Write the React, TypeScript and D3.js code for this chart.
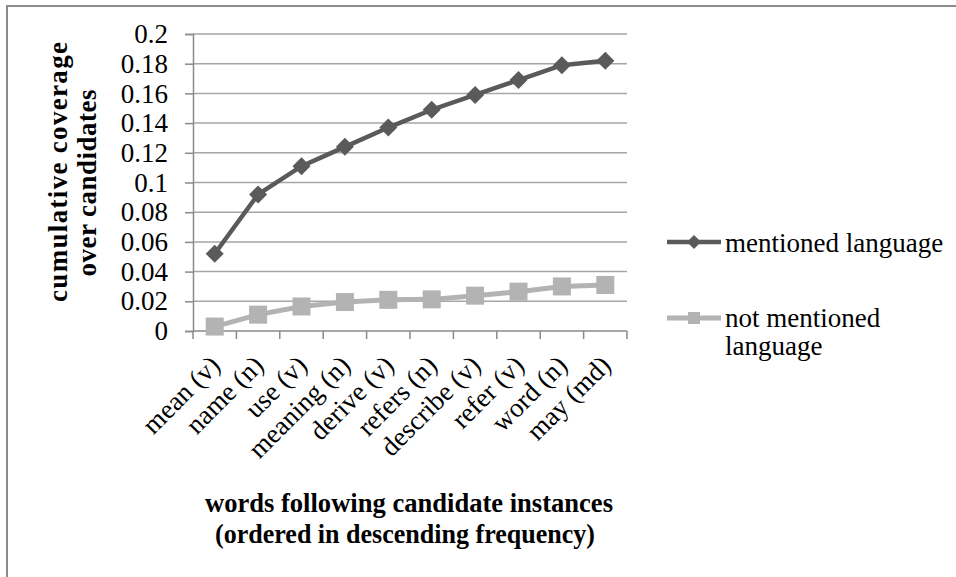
import * as d3 from "d3";
import { useEffect, useRef } from "react";

// categories on the x axis
const words = [
  "mean (v)",
  "name (n)",
  "use (v)",
  "meaning (n)",
  "derive (v)",
  "refers (n)",
  "describe (v)",
  "refer (v)",
  "word (n)",
  "may (md)",
];

// cumulative coverage values
const mentioned = [0.052, 0.092, 0.111, 0.124, 0.137, 0.149, 0.159, 0.169, 0.179, 0.182];
const notMentioned = [0.003, 0.011, 0.0165, 0.0195, 0.021, 0.0213, 0.0238, 0.0265, 0.03, 0.031];

const yTicks = [0, 0.02, 0.04, 0.06, 0.08, 0.1, 0.12, 0.14, 0.16, 0.18, 0.2];

const FONT = "'Liberation Serif', 'Times New Roman', serif";
const DARK = "#5a5a5a";
const LIGHT = "#b3b3b3";

export default function App() {
  const svgRef = useRef<SVGSVGElement | null>(null);
  const width = 956;
  const height = 577;

  useEffect(() => {
    if (!svgRef.current) return;
    const svg = d3.select(svgRef.current);
    svg.selectAll("*").remove();

    const left = 193;
    const right = 627;
    const top = 34;
    const bottom = 331;

    const x = d3.scaleBand<string>().domain(words).range([left, right]).padding(0);
    const y = d3.scaleLinear().domain([0, 0.2]).range([bottom, top]);
    const cx = (w: string) => x(w)! + x.bandwidth() / 2;

    // outer frame (only top & left fall inside the picture)
    svg
      .append("path")
      .attr("d", `M7,${height} L7,6 L${width},6`)
      .attr("fill", "none")
      .attr("stroke", "#8c8c8c")
      .attr("stroke-width", 2);

    // gridlines
    svg
      .append("g")
      .selectAll("line")
      .data(yTicks.slice(1))
      .enter()
      .append("line")
      .attr("x1", left)
      .attr("x2", right)
      .attr("y1", (d) => y(d))
      .attr("y2", (d) => y(d))
      .attr("stroke", "#a6a6a6")
      .attr("stroke-width", 1.5);

    // y axis
    const yAxis = svg
      .append("g")
      .attr("transform", `translate(${left},0)`)
      .call(
        d3
          .axisLeft(y)
          .tickValues(yTicks)
          .tickSize(8)
          .tickPadding(17)
          .tickFormat((d) => String(d))
      );
    yAxis.select(".domain").attr("stroke", "#8a8a8a").attr("stroke-width", 1.5);
    yAxis.selectAll(".tick line").attr("stroke", "#8a8a8a").attr("stroke-width", 1.5);
    yAxis
      .selectAll(".tick text")
      .attr("fill", "#000")
      .style("font-family", FONT)
      .style("font-size", "27px");

    // x axis
    const xAxis = svg.append("g");
    xAxis
      .append("line")
      .attr("x1", left)
      .attr("x2", right)
      .attr("y1", bottom)
      .attr("y2", bottom)
      .attr("stroke", "#8a8a8a")
      .attr("stroke-width", 1.5);
    xAxis
      .selectAll(".xt")
      .data(d3.range(words.length + 1))
      .enter()
      .append("line")
      .attr("x1", (i) => left + i * x.step())
      .attr("x2", (i) => left + i * x.step())
      .attr("y1", bottom)
      .attr("y2", bottom + 8)
      .attr("stroke", "#8a8a8a")
      .attr("stroke-width", 1.5);
    xAxis
      .selectAll(".xl")
      .data(words)
      .enter()
      .append("text")
      .attr("transform", (d) => `translate(${cx(d) + 7},${bottom + 36}) rotate(-45)`)
      .attr("text-anchor", "end")
      .style("font-family", FONT)
      .style("font-size", "27px")
      .text((d) => d);

    // lines + markers
    const line = d3
      .line<number>()
      .x((_, i) => cx(words[i]))
      .y((d) => y(d));

    svg
      .append("path")
      .datum(notMentioned)
      .attr("fill", "none")
      .attr("stroke", LIGHT)
      .attr("stroke-width", 5)
      .attr("d", line);
    svg
      .append("g")
      .selectAll("rect")
      .data(notMentioned)
      .enter()
      .append("rect")
      .attr("x", (_, i) => cx(words[i]) - 9)
      .attr("y", (d) => y(d) - 9)
      .attr("width", 18)
      .attr("height", 18)
      .attr("fill", LIGHT);

    svg
      .append("path")
      .datum(mentioned)
      .attr("fill", "none")
      .attr("stroke", DARK)
      .attr("stroke-width", 4.5)
      .attr("d", line);
    svg
      .append("g")
      .selectAll("path")
      .data(mentioned)
      .enter()
      .append("path")
      .attr("transform", (d, i) => `translate(${cx(words[i])},${y(d)})`)
      .attr("d", "M0,-9L9,0L0,9L-9,0Z")
      .attr("fill", DARK);

    // y title
    const yTitle = svg.append("g").style("font-family", FONT).style("font-size", "27px").style("font-weight", "bold");
    yTitle
      .append("text")
      .attr("transform", "translate(67,172) rotate(-90)")
      .attr("text-anchor", "middle")
      .attr("textLength", 260)
      .attr("lengthAdjust", "spacing")
      .text("cumulative  coverage");
    yTitle
      .append("text")
      .attr("transform", "translate(96,183) rotate(-90)")
      .attr("text-anchor", "middle")
      .attr("textLength", 187)
      .attr("lengthAdjust", "spacing")
      .text("over  candidates");

    // x title
    const xTitle = svg.append("g").style("font-family", FONT).style("font-size", "27px").style("font-weight", "bold");
    xTitle
      .append("text")
      .attr("x", 409)
      .attr("y", 512)
      .attr("text-anchor", "middle")
      .attr("textLength", 408)
      .attr("lengthAdjust", "spacingAndGlyphs")
      .text("words following candidate instances");
    xTitle
      .append("text")
      .attr("x", 405)
      .attr("y", 543)
      .attr("text-anchor", "middle")
      .attr("textLength", 380)
      .attr("lengthAdjust", "spacingAndGlyphs")
      .text("(ordered in descending frequency)");

    // legend
    const legend = svg.append("g").style("font-family", FONT).style("font-size", "27px");
    const lg1 = legend.append("g").attr("transform", "translate(0,242)");
    lg1.append("line").attr("x1", 667).attr("x2", 721).attr("stroke", DARK).attr("stroke-width", 4.5);
    lg1.append("path").attr("d", "M694,-7L701,0L694,7L687,0Z").attr("fill", DARK);
    lg1.append("text").attr("x", 725).attr("y", 10).text("mentioned language");

    const lg2 = legend.append("g").attr("transform", "translate(0,318)");
    lg2.append("line").attr("x1", 667).attr("x2", 721).attr("stroke", LIGHT).attr("stroke-width", 5);
    lg2.append("rect").attr("x", 688).attr("y", -6).attr("width", 12).attr("height", 12).attr("fill", LIGHT);
    lg2.append("text").attr("x", 725).attr("y", 9).text("not mentioned");
    lg2.append("text").attr("x", 725).attr("y", 37).text("language");
  }, []);

  return (
    <svg
      ref={svgRef}
      width={width}
      height={height}
      style={{ position: "absolute", left: 0, top: 0, background: "#fff" }}
    />
  );
}
